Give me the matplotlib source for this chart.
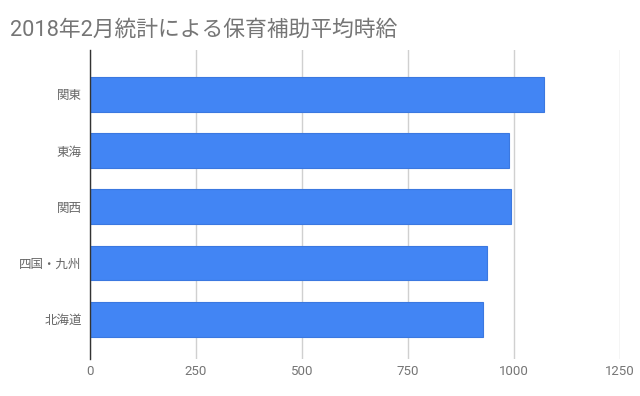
import matplotlib.pyplot as plt
import numpy as np

plt.rcParams['font.family'] = ['Roboto', 'Noto Sans CJK JP', 'DejaVu Sans']

title = '2018年2月統計による保育補助平均時給'
regions = ['関東', '東海', '関西', '四国・九州', '北海道']
wages = [1070, 989, 994, 936, 926]
xticks = [0, 250, 500, 750, 1000, 1250]

fig = plt.figure(figsize=(6.4, 3.96), dpi=100)
ax = fig.add_axes([90 / 640, 1 - 359 / 396, 530 / 640, 309 / 396])

y = np.arange(len(regions))
ax.barh(y, wages, height=0.62, color='#4285F4', edgecolor='#3b78e0', linewidth=0.8, zorder=3)

ax.set_xlim(0, 1250)
ax.set_ylim(4.71, -0.79)
ax.set_yticks(y)
ax.set_yticklabels(regions, fontsize=9, color='#666666')
ax.set_xticks(xticks)
ax.set_xticklabels([str(t) for t in xticks], fontsize=9.5, color='#757575')
ax.tick_params(axis='x', length=0, pad=4)
ax.tick_params(axis='y', length=0, pad=6)

ax.grid(axis='x', color='#d0d0d0', linewidth=1, zorder=0)
for s in ['top', 'right', 'bottom']:
    ax.spines[s].set_visible(False)
ax.spines['left'].set_color('#333333')
ax.spines['left'].set_linewidth(1)
ax.spines['left'].set_zorder(4)

fig.text(10 / 640, 1 - 30 / 396, title, fontsize=15.7, color='#757575', va='center', ha='left')

fig.savefig('out.png', dpi=100)
